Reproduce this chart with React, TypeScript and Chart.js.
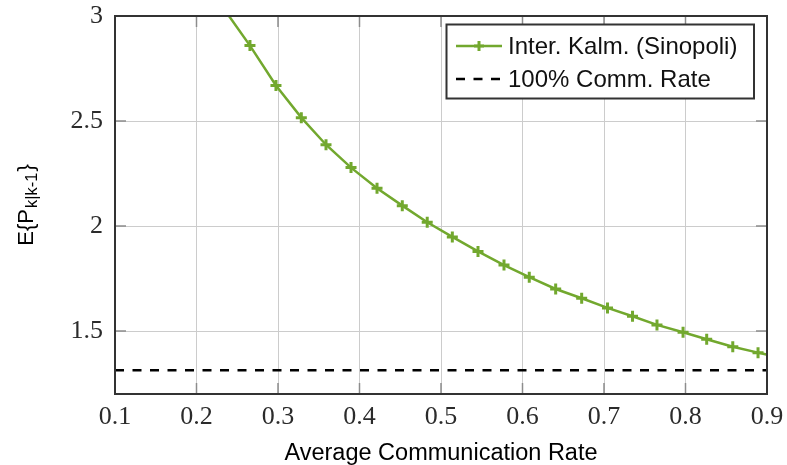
import React, { useEffect, useRef } from 'react';
import { Chart, registerables } from 'chart.js';

Chart.register(...registerables);

// ---- data ----
const commRate = [
  0.2344, 0.2656, 0.2975, 0.3286, 0.3589, 0.3896, 0.4215, 0.4525, 0.4831, 0.5139,
  0.5454, 0.5773, 0.6083, 0.6407, 0.6726, 0.7043, 0.735, 0.765, 0.797, 0.826,
  0.858, 0.889, 0.9203,
];
const sinopoliP = [
  3.03, 2.859, 2.669, 2.516, 2.387, 2.278, 2.18, 2.097, 2.018, 1.948,
  1.879, 1.814, 1.756, 1.7, 1.656, 1.61, 1.57, 1.529, 1.494, 1.461,
  1.425, 1.397, 1.37,
];
const fullRateP = 1.313;
const fullRateX = [0.1, 0.9];
const xTickValues = [0.1, 0.2, 0.3, 0.4, 0.5, 0.6, 0.7, 0.8, 0.9];
const yTickValues = [1.5, 2, 2.5, 3];
const xRange = [0.1, 0.9];
const yRange = [1.2, 3];
const seriesLabels = ['Inter. Kalm. (Sinopoli)', '100% Comm. Rate'];
const xTitle = 'Average Communication Rate';
const yTitleMain = 'E{P';
const yTitleSub = 'k|k-1';
const yTitleEnd = '}';

const GREEN = '#72a82e';
const SANS = '"Liberation Sans", Arial, sans-serif';
const SERIF = '"Liberation Serif", "Times New Roman", serif';

const zeroPad = (s: any) => {
  s.paddingTop = 0;
  s.paddingBottom = 0;
  s.paddingLeft = 0;
  s.paddingRight = 0;
};

const decorPlugin = {
  id: 'decor',
  afterDatasetsDraw(chart: any) {
    const { ctx, chartArea: a, scales } = chart;
    ctx.save();
    const seg = (x1: number, y1: number, x2: number, y2: number) => {
      ctx.beginPath();
      ctx.moveTo(x1, y1);
      ctx.lineTo(x2, y2);
      ctx.stroke();
    };
    // inward tick marks
    ctx.strokeStyle = '#8c8c8c';
    ctx.lineWidth = 1.5;
    for (const v of xTickValues) {
      const px = scales.x.getPixelForValue(v);
      if (px <= a.left + 1 || px >= a.right - 1) continue;
      seg(px, a.bottom, px, a.bottom - 11);
      seg(px, a.top, px, a.top + 11);
    }
    for (const v of yTickValues) {
      const py = scales.y.getPixelForValue(v);
      if (py <= a.top + 1 || py >= a.bottom - 1) continue;
      seg(a.left, py, a.left + 11, py);
      seg(a.right, py, a.right - 11, py);
    }
    // axis box
    ctx.strokeStyle = '#333333';
    ctx.lineWidth = 2;
    ctx.strokeRect(a.left, a.top, a.right - a.left, a.bottom - a.top);

    // legend
    const lx = a.right - 320.5;
    const ly = a.top + 8.5;
    const lw = 307.5;
    const lh = 74;
    ctx.fillStyle = '#ffffff';
    ctx.fillRect(lx, ly, lw, lh);
    ctx.strokeStyle = '#333333';
    ctx.lineWidth = 2;
    ctx.strokeRect(lx, ly, lw, lh);
    const r1 = ly + 21.5;
    const r2 = ly + 54.5;
    const sx1 = lx + 9.5;
    const sx2 = lx + 55.5;
    ctx.strokeStyle = GREEN;
    ctx.lineWidth = 2.5;
    seg(sx1, r1, sx2, r1);
    ctx.lineWidth = 3;
    const mx = (sx1 + sx2) / 2;
    seg(mx - 5, r1, mx + 5, r1);
    seg(mx, r1 - 5, mx, r1 + 5);
    ctx.strokeStyle = '#000000';
    ctx.lineWidth = 2.4;
    ctx.setLineDash([9, 8.5]);
    seg(sx1, r2, sx2, r2);
    ctx.setLineDash([]);
    ctx.fillStyle = '#111111';
    ctx.font = `24px ${SANS}`;
    ctx.textAlign = 'left';
    ctx.textBaseline = 'middle';
    ctx.fillText(seriesLabels[0], lx + 61.5, r1 + 1);
    ctx.fillText(seriesLabels[1], lx + 61.5, r2 + 1);

    // x title
    ctx.fillStyle = '#000000';
    ctx.font = `23.5px ${SANS}`;
    ctx.textAlign = 'center';
    ctx.textBaseline = 'alphabetic';
    ctx.fillText(xTitle, (a.left + a.right) / 2, 460);

    // y title (rotated, with subscript)
    ctx.save();
    ctx.translate(32.5, (a.top + a.bottom) / 2);
    ctx.rotate(-Math.PI / 2);
    ctx.textAlign = 'left';
    const mainFont = `22px ${SANS}`;
    const subFont = `16.5px ${SANS}`;
    ctx.font = mainFont;
    const w1 = ctx.measureText(yTitleMain).width;
    const w3 = ctx.measureText(yTitleEnd).width;
    ctx.font = subFont;
    const w2 = ctx.measureText(yTitleSub).width;
    const total = w1 + w2 + w3 + 2;
    let cx = -total / 2;
    ctx.font = mainFont;
    ctx.fillText(yTitleMain, cx, 0);
    cx += w1 + 1;
    ctx.font = subFont;
    ctx.fillText(yTitleSub, cx, 4.5);
    cx += w2 + 1;
    ctx.font = mainFont;
    ctx.fillText(yTitleEnd, cx, 0);
    ctx.restore();

    ctx.restore();
  },
};

export default function App() {
  const ref = useRef<HTMLCanvasElement | null>(null);
  useEffect(() => {
    document.body.style.margin = '0';
    const canvas = ref.current;
    if (!canvas) return;
    const chart = new Chart(canvas, {
      type: 'line',
      data: {
        datasets: [
          {
            label: seriesLabels[0],
            data: commRate.map((x, i) => ({ x, y: sinopoliP[i] })),
            borderColor: GREEN,
            backgroundColor: GREEN,
            borderWidth: 2.5,
            pointStyle: 'cross',
            pointRadius: 5.5,
            pointBorderWidth: 3,
            pointBorderColor: GREEN,
            pointBackgroundColor: GREEN,
            tension: 0,
            clip: 0,
          } as any,
          {
            label: seriesLabels[1],
            data: fullRateX.map((x) => ({ x, y: fullRateP })),
            borderColor: '#000000',
            borderWidth: 2.4,
            borderDash: [9, 8.5],
            pointRadius: 0,
            tension: 0,
            clip: 0,
          } as any,
        ],
      },
      options: {
        responsive: false,
        animation: false,
        devicePixelRatio: 1,
        events: [],
        layout: { padding: { left: 0, top: 16, right: 20, bottom: 0 } },
        plugins: {
          legend: { display: false },
          tooltip: { enabled: false },
        },
        scales: {
          x: {
            type: 'linear',
            min: xRange[0],
            max: xRange[1],
            afterBuildTicks: (s: any) => {
              s.ticks = xTickValues.map((v) => ({ value: v }));
            },
            afterFit: (s: any) => {
              s.height = 71;
              zeroPad(s);
            },
            grid: { color: '#cccccc', lineWidth: 1, drawTicks: false },
            border: { display: false },
            ticks: {
              padding: 8,
              autoSkip: false,
              maxRotation: 0,
              color: '#2b2b2b',
              font: { family: SERIF, size: 26 },
              callback: (v: any) => String(v),
            },
          },
          y: {
            type: 'linear',
            min: yRange[0],
            max: yRange[1],
            afterBuildTicks: (s: any) => {
              s.ticks = yTickValues.map((v) => ({ value: v }));
            },
            afterFit: (s: any) => {
              s.width = 115;
              zeroPad(s);
            },
            grid: { color: '#cccccc', lineWidth: 1, drawTicks: false },
            border: { display: false },
            ticks: {
              padding: 12,
              autoSkip: false,
              color: '#2b2b2b',
              font: { family: SERIF, size: 26 },
              callback: (v: any) => String(v),
            },
          },
        },
      } as any,
      plugins: [decorPlugin],
    });
    return () => chart.destroy();
  }, []);
  return (
    <div style={{ position: 'absolute', left: 0, top: 0, width: 787, height: 465 }}>
      <canvas ref={ref} width={787} height={465} style={{ display: 'block' }} />
    </div>
  );
}
